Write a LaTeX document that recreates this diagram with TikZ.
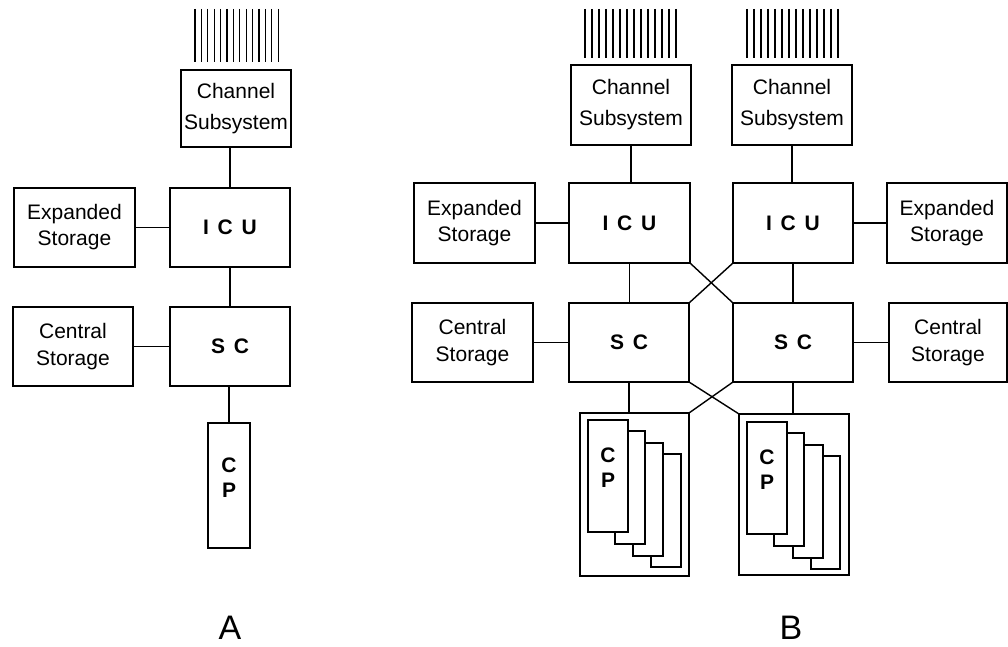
\documentclass[tikz,border=0pt]{standalone}
\usepackage{fontspec}
\setmainfont{Liberation Sans}
\newcommand{\gap}{\hspace{0.42em}}
\begin{document}
\begin{tikzpicture}[x=1pt,y=-1pt,
  box/.style={draw, line width=1.4pt, fill=white, inner sep=0pt, outer sep=0pt, align=center,
    font=\fontsize{21}{26}\selectfont},
  unit/.style={box, font=\fontsize{21}{26}\selectfont\bfseries},
  cpbox/.style={draw, line width=1.4pt, fill=white, inner sep=0pt, outer sep=0pt},
  cptext/.style={inner sep=0pt, align=center, font=\fontsize{21}{26}\selectfont\bfseries},
  wire/.style={line width=1.4pt},
  chan/.style={line width=1.3pt},
  title/.style={inner sep=0pt, font=\fontsize{34}{40}\selectfont}]
\useasboundingbox (0,0) rectangle (1008,647);

% ---------------- A ----------------
\node[box, minimum width=110pt, minimum height=77pt] (csA) at (236,108.5) {Channel\\[5pt]Subsystem};
\node[box, minimum width=121pt, minimum height=79pt] (esA) at (74.5,227.5) {Expanded\\Storage};
\node[unit, minimum width=120pt, minimum height=79pt] (icuA) at (230,227.5) {I\gap C\gap U};
\node[box, minimum width=120pt, minimum height=79pt] (ctA) at (73,346.5) {Central\\[1pt]Storage};
\node[unit, minimum width=120pt, minimum height=79pt] (scA) at (230,346.5) {S\gap C};
\node[cpbox, minimum width=42pt, minimum height=125pt] (cpA) at (229,485.5) {};
\node[cptext] (cpAt) at (229,478) {C\\[-1pt]P};
\foreach \i in {0,...,13} \draw[chan] ({195+\i*6.4},9) -- ({195+\i*6.4},62);
\draw[wire] (icuA.north) -- (icuA.north |- csA.south);
\draw[wire] (esA.east) -- (icuA.west);
\draw[wire] (icuA.south) -- (scA.north);
\draw[wire] (ctA.east) -- (scA.west);
\draw[wire] (cpA.north |- scA.south) -- (cpA.north);
\node[title] (labA) at (230,628) {A};

% ---------------- B ----------------
\node[box, minimum width=120pt, minimum height=80pt] (csL) at (631,105) {Channel\\[5pt]Subsystem};
\node[box, minimum width=120pt, minimum height=80pt] (csR) at (792,105) {Channel\\[5pt]Subsystem};
\foreach \i in {0,...,13} {
  \draw[chan] ({585+\i*7},9) -- ({585+\i*7},58);
  \draw[chan] ({747+\i*7},9) -- ({747+\i*7},58);
}
\node[box, minimum width=121pt, minimum height=80pt] (esL) at (474.5,223) {Expanded\\Storage};
\node[unit, minimum width=121pt, minimum height=80pt] (icuL) at (629.5,223) {I\gap C\gap U};
\node[unit, minimum width=120pt, minimum height=80pt] (icuR) at (793,223) {I\gap C\gap U};
\node[box, minimum width=120pt, minimum height=80pt] (esR) at (947,223) {Expanded\\Storage};
\node[box, minimum width=121pt, minimum height=79pt] (ctL) at (472.5,342.5) {Central\\[1pt]Storage};
\node[unit, minimum width=120pt, minimum height=79pt] (scL) at (629,342.5) {S\gap C};
\node[unit, minimum width=120pt, minimum height=79pt] (scR) at (793,342.5) {S\gap C};
\node[box, minimum width=118pt, minimum height=79pt] (ctR) at (948,342.5) {Central\\[1pt]Storage};

\node[cpbox, minimum width=109pt, minimum height=163pt] (boxL) at (634.5,494.5) {};
\node[cpbox, minimum width=110pt, minimum height=161pt] (boxR) at (794,494.5) {};

% left CP stack (back to front)
\node[cpbox, minimum width=30pt, minimum height=113pt] (cpL4) at (666,510.5) {};
\node[cpbox, minimum width=30pt, minimum height=113pt] (cpL3) at (648,499.5) {};
\node[cpbox, minimum width=30pt, minimum height=113pt] (cpL2) at (630,487.5) {};
\node[cpbox, minimum width=40pt, minimum height=112pt] (cpL1) at (608,476) {};
\node[cptext] (cpLt) at (608,467.5) {C\\[-1pt]P};
% right CP stack
\node[cpbox, minimum width=29pt, minimum height=113pt] (cpR4) at (825.5,512.5) {};
\node[cpbox, minimum width=30pt, minimum height=113pt] (cpR3) at (808,501.5) {};
\node[cpbox, minimum width=30pt, minimum height=113pt] (cpR2) at (789,489.5) {};
\node[cpbox, minimum width=40pt, minimum height=112pt] (cpR1) at (767,478) {};
\node[cptext] (cpRt) at (767,469.5) {C\\[-1pt]P};

\draw[wire] (csL.south) -- (csL.south |- icuL.north);
\draw[wire] (csR.south) -- (csR.south |- icuR.north);
\draw[wire] (esL.east) -- (icuL.west);
\draw[wire] (icuR.east) -- (esR.west);
\draw[wire] (icuL.south) -- (icuL.south |- scL.north);
\draw[wire] (icuR.south) -- (icuR.south |- scR.north);
\draw[wire] (ctL.east) -- (scL.west);
\draw[wire] (scR.east) -- (ctR.west);
\draw[wire] (icuL.south east) -- (scR.north west);
\draw[wire] (icuR.south west) -- (scL.north east);
\draw[wire] (scL.south) -- (scL.south |- boxL.north);
\draw[wire] (scR.south) -- (scR.south |- boxR.north);
\draw[wire] (scL.south east) -- (boxR.north west);
\draw[wire] (scR.south west) -- (boxL.north east);
\node[title] (labB) at (791,628) {B};
\end{tikzpicture}
\end{document}
